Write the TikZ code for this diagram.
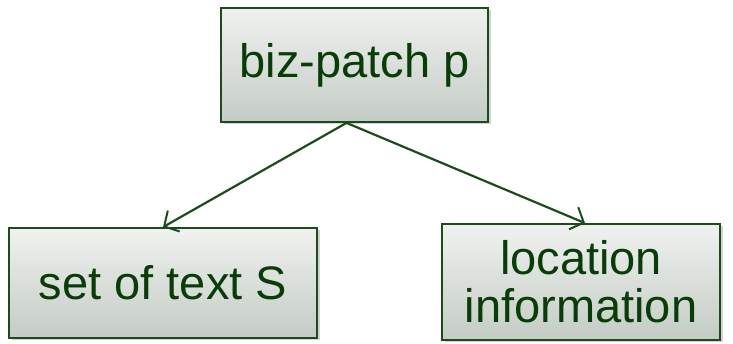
\documentclass[tikz,border=0pt]{standalone}
\usepackage{fontspec}
\setmainfont{Liberation Sans}
\usepackage{tikz}
\usetikzlibrary{arrows.meta, positioning, shadows, calc}

\definecolor{boxline}{RGB}{30,75,30}
\definecolor{boxtext}{RGB}{10,60,10}
\definecolor{boxtop}{RGB}{240,242,240}
\definecolor{boxbottom}{RGB}{196,203,196}

\begin{document}
\begin{tikzpicture}[
    x=1pt, y=1pt,
    patchbox/.style={rectangle, draw=boxline, line width=1.8pt, top color=boxtop, bottom color=boxbottom,
        text=boxtext, align=center, inner sep=0pt,
        font=\fontsize{47}{48}\selectfont,
        drop shadow={shadow xshift=2.5pt, shadow yshift=-2.5pt, opacity=0.35}},
    arrow/.style={-{Straight Barb[length=11pt, width=24pt, line width=2pt]}, line width=2.2pt, draw=boxline}
]
\useasboundingbox (0,0) rectangle (733,344);
\node[patchbox, minimum width=267pt, minimum height=114pt] (patch) at (354.5,279) {biz-patch p};
\node[patchbox, minimum width=308pt, minimum height=110pt] (texts) at (163,61) {set of text S};
\node[patchbox, minimum width=278pt, minimum height=116pt] (loc) at (581,62) {location\\information};
\coordinate (fork) at ($(patch.south)+(-8,0)$);
\draw[arrow] (fork) -- (texts.north);
\draw[arrow] (fork) -- ($(loc.north)+(4,0)$);
\end{tikzpicture}
\end{document}
